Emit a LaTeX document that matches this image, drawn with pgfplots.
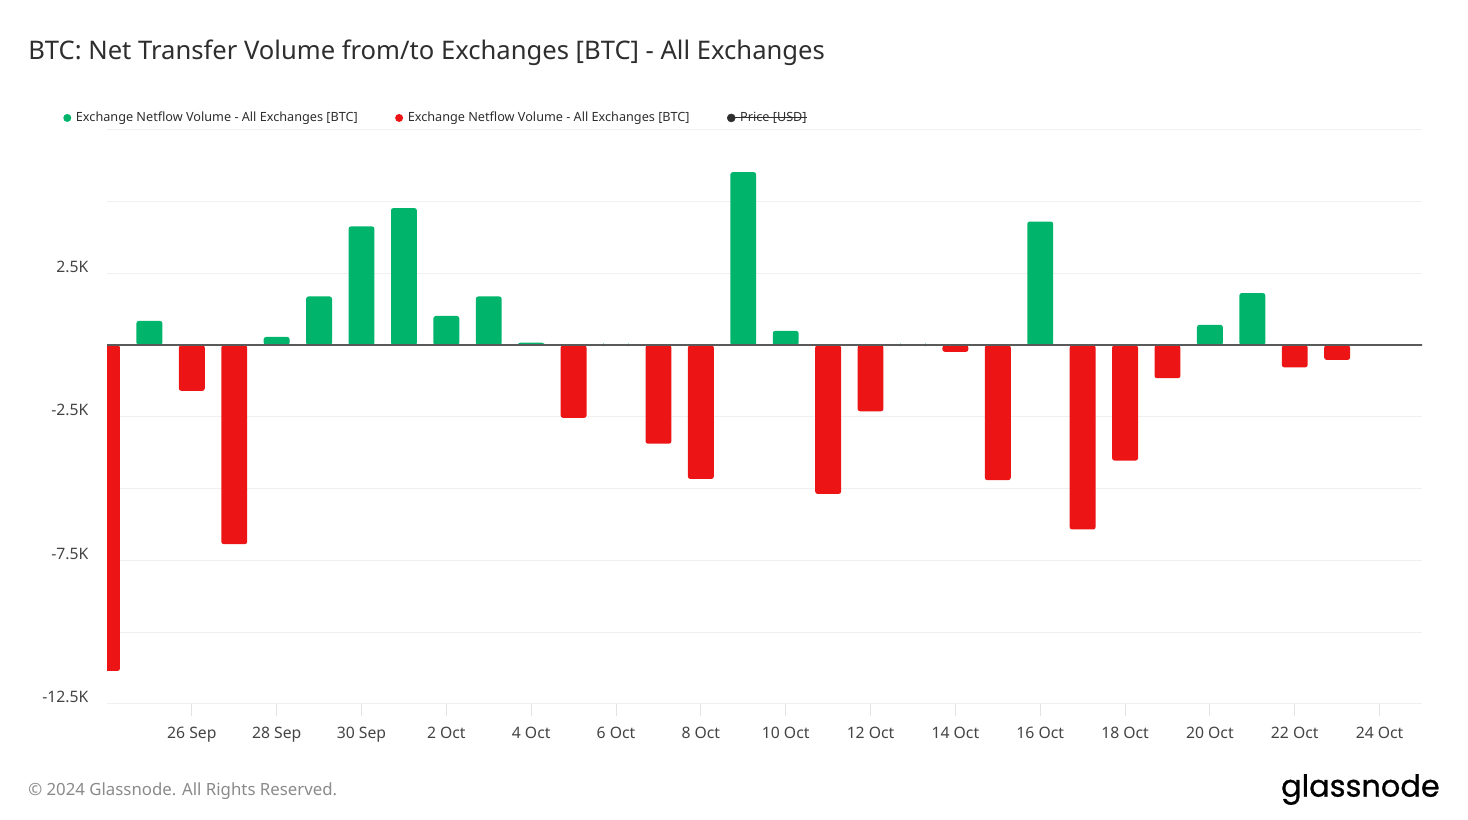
\documentclass[border=0pt]{standalone}
\usepackage{fontspec}
\setmainfont{Noto Sans}
\newfontfamily\logofont[FakeBold=0.8]{Poppins}
\usepackage{pgfplots}
\usepackage{pgfplotstable}
\pgfplotsset{compat=1.18}
\definecolor{gngreen}{HTML}{00B46B}
\definecolor{gnred}{HTML}{EC1414}
\definecolor{gridc}{HTML}{F0F0F0}
\definecolor{tickc}{HTML}{E3E3E3}
\definecolor{zeroc}{HTML}{5A5A5A}
\definecolor{txt}{HTML}{2E2E2E}
\definecolor{lbl}{HTML}{444444}
\definecolor{foot}{HTML}{8A8A8A}
\newlength\strikelen
\newcommand\strike[1]{\settowidth\strikelen{#1}\llap{\rule[0.33em]{7pt}{0.5pt}}\rlap{\rule[0.33em]{\strikelen}{0.5pt}}#1}

% day index: 0 = 24 Sep ... 30 = 24 Oct ; value in BTC
\pgfplotstableread{
x y
1 850
4 290
5 1700
6 4140
7 4780
8 1020
9 1700
10 90
12 30
15 6030
16 500
19 30
22 4310
26 710
27 1820
}\greentab
\pgfplotstableread{
x y
0 -11350
2 -1590
3 -6930
11 -2530
13 -3430
14 -4660
17 -5180
18 -2300
20 -230
21 -4700
23 -6420
24 -4020
25 -1150
28 -770
29 -510
}\redtab

\begin{document}
\begin{tikzpicture}
\path[use as bounding box] (0,0) rectangle (1101pt,615pt);
\node[anchor=base west, inner sep=0pt, text=txt, font=\fontsize{19.2}{22}\selectfont] at (21pt,570pt)
  {BTC: Net Transfer Volume from/to Exchanges [BTC] - All Exchanges};
\node[anchor=base west, inner sep=0pt, text=foot, font=\fontsize{12.6}{15}\selectfont] at (21pt,18pt)
  {© 2024 Glassnode. All Rights Reserved.};
\node[anchor=base east, text=black, font=\logofont\fontsize{22.8}{26}\selectfont, inner sep=0pt] at (1080pt,17.5pt)
  {glassnode};
\begin{axis}[
  at={(80.25pt,87pt)}, anchor=south west,
  scale only axis, width=986.25pt, height=430.5pt,
  xmin=0, xmax=31, ymin=-12500, ymax=7500,
  scaled y ticks=false,
  axis line style={draw=none},
  xtick pos=lower, ytick pos=left,
  xtick={2,4,...,30},
  xticklabels={26 Sep,28 Sep,30 Sep,2 Oct,4 Oct,6 Oct,8 Oct,10 Oct,12 Oct,14 Oct,16 Oct,18 Oct,20 Oct,22 Oct,24 Oct},
  xtick style={draw=tickc, line width=0.75pt},
  tick align=outside, major tick length=9pt,
  ytick={-12500,-10000,...,7500},
  yticklabels={-12.5K,,-7.5K,,-2.5K,,2.5K,,},
  ytick style={draw=none},
  ymajorgrids, grid style={draw=gridc, line width=0.75pt},
  tick label style={font=\fontsize{11.8}{14}\selectfont, text=lbl},
  xticklabel style={yshift=-4.5pt},
  yticklabel style={anchor=east, xshift=-1.5pt, yshift=5.25pt},
  legend columns=-1,
  legend cell align=left,
  legend style={draw=none, fill=none, at={(-0.0365,1.021)}, anchor=west,
    font=\fontsize{9.5}{11}\selectfont, text=txt,
    /tikz/every odd column/.append style={column sep=1.5pt},
    /tikz/every even column/.append style={column sep=26pt}},
  clip=true,
]
\addplot[ybar, bar shift=0pt, bar width=0.61, fill=gngreen, draw=none, rounded corners=1.8pt,
  legend image code/.code={\fill[gngreen] (2pt,0pt) circle (3pt);}] table[x=x,y=y] {\greentab};
\addlegendentry{Exchange Netflow Volume - All Exchanges [BTC]}
\addplot[ybar, bar shift=0pt, bar width=0.61, fill=gnred, draw=none, rounded corners=1.8pt,
  legend image code/.code={\fill[gnred] (2pt,0pt) circle (3pt);}] table[x=x,y=y] {\redtab};
\addlegendentry{Exchange Netflow Volume - All Exchanges [BTC]}
\addlegendimage{legend image code/.code={\fill[txt] (2pt,0pt) circle (3pt);}}
\addlegendentry{\strike{Price [USD]}}
\addplot[forget plot, zeroc, line width=1.4pt] coordinates {(-1,0) (32,0)};
\end{axis}
\end{tikzpicture}
\end{document}
